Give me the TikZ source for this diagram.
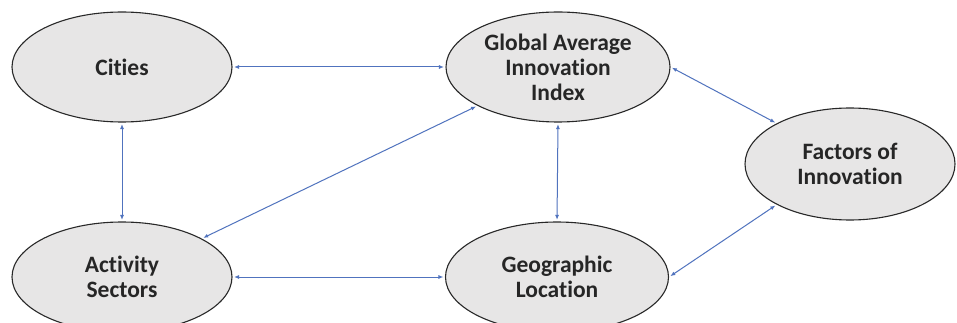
\documentclass[tikz,border=0pt]{standalone}
\usepackage{fontspec}
\setmainfont{Carlito}[Ligatures=NoCommon]
\usetikzlibrary{shapes.geometric,arrows.meta}
\definecolor{ellfill}{RGB}{231,230,230}
\definecolor{ellline}{RGB}{40,40,40}
\definecolor{arrblue}{RGB}{80,115,190}
\tikzset{
  ell/.style={ellipse,draw=ellline,line width=1.1pt,fill=ellfill,inner sep=0pt,
    minimum width=220pt,minimum height=110pt,align=center,
    font=\fontsize{23.5}{25}\selectfont\bfseries,text=black!85},
  link/.style={draw=arrblue,line width=1pt,{Latex[length=5pt,width=4pt]}-{Latex[length=5pt,width=4pt]},
    shorten <=1.5pt,shorten >=1.5pt}
}
\begin{document}
\begin{tikzpicture}[x=1pt,y=-1pt]
\useasboundingbox (0,0) rectangle (957,323);
\clip (0,0) rectangle (957,323);
\fill[white] (0,0) rectangle (957,323);
\node[ell] (cities) at (122,67) {Cities};
\node[ell,minimum width=224pt] (global) at (558,67) {Global Average\\Innovation\\Index};
\node[ell,minimum width=210pt,minimum height=112pt] (factors) at (850,164) {Factors of\\Innovation};
\node[ell] (activity) at (122,277) {Activity\\Sectors};
\node[ell,minimum width=223pt] (geo) at (557,277) {Geographic\\Location};
\draw[link] (cities.east) -- (global.west);
\draw[link] (cities.south) -- (activity.north);
\draw[link] (global) -- (activity);
\draw[link] (global.south) -- (geo.north);
\draw[link] (global.east) -- (factors.151);
\draw[link] (activity.east) -- (geo.west);
\draw[link] (geo.east) -- (factors.209);
\end{tikzpicture}
\end{document}
